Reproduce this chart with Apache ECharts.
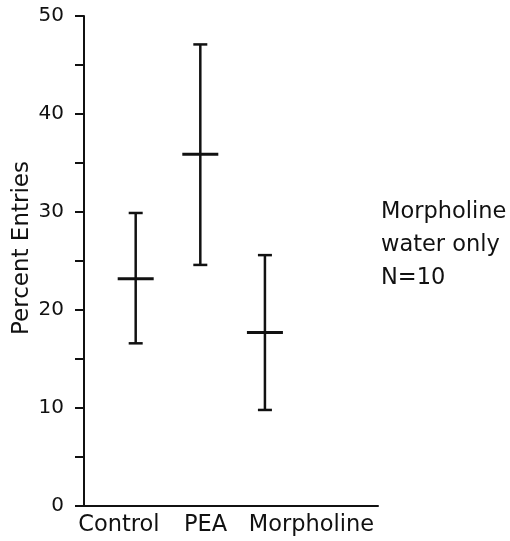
<!DOCTYPE html>
<html>
<head>
<meta charset="utf-8">
<script src="https://cdn.jsdelivr.net/npm/echarts@6/dist/echarts.min.js"></script>
<style>html,body{margin:0;padding:0;background:#fff;}#c{width:510px;height:541px;}</style>
</head>
<body>
<div id="c"></div>
<script>
const categories = ['Control', 'PEA', 'Morpholine'];
const means = [23.2, 35.9, 17.7];
const upper = [29.9, 47.1, 25.6];
const lower = [16.6, 24.6, 9.8];
const yTicks = [0, 10, 20, 30, 40, 50];
const labelPositions = [-0.26, 1.08, 2.72];
const noteLines = ['Morpholine', 'water only', 'N=10'];

const font = 'DejaVu Sans';
const ink = '#111';
const chart = echarts.init(document.getElementById('c'));
const data = categories.map((c, i) => [i, means[i], lower[i], upper[i]]);

chart.setOption({
  animation: false,
  grid: { left: 84, right: 132, top: 16, bottom: 35, containLabel: false, outerBoundsMode: 'none' },
  xAxis: {
    type: 'value', min: -0.8, max: 3.75,
    splitLine: { show: false },
    axisLine: { show: true, onZero: false, lineStyle: { color: ink, width: 2 } },
    axisTick: { show: false },
    axisLabel: {
      customValues: labelPositions,
      formatter: v => { const i = labelPositions.indexOf(v); return i >= 0 ? categories[i] : ''; },
      color: ink, fontFamily: font, fontSize: 22.5, margin: 8
    }
  },
  yAxis: {
    type: 'value', min: 0, max: 50, interval: 5,
    name: 'Percent Entries', nameLocation: 'middle', nameGap: 50, nameMoveOverlap: false,
    nameTextStyle: { color: ink, fontFamily: font, fontSize: 23, padding: [0, 0, 0, 26] },
    splitLine: { show: false },
    axisLine: { show: true, onZero: false, lineStyle: { color: ink, width: 2 } },
    axisTick: { show: true, length: 9, lineStyle: { color: ink, width: 2 } },
    axisLabel: {
      formatter: v => yTicks.includes(v) ? String(v) : '',
      color: ink, fontFamily: font, fontSize: 20, margin: 20
    }
  },
  series: [{
    type: 'custom',
    data: data,
    renderItem: (params, api) => {
      const x = api.value(0);
      const m = api.coord([x, api.value(1)]);
      const lo = api.coord([x, api.value(2)]);
      const hi = api.coord([x, api.value(3)]);
      const st = { stroke: ink, lineWidth: 2.5 };
      const cap = 7, half = 18;
      return { type: 'group', children: [
        { type: 'line', shape: { x1: m[0], y1: hi[1], x2: m[0], y2: lo[1] }, style: st },
        { type: 'line', shape: { x1: m[0] - cap, y1: hi[1], x2: m[0] + cap, y2: hi[1] }, style: st },
        { type: 'line', shape: { x1: m[0] - cap, y1: lo[1], x2: m[0] + cap, y2: lo[1] }, style: st },
        { type: 'line', shape: { x1: m[0] - half, y1: m[1], x2: m[0] + half, y2: m[1] }, style: { stroke: ink, lineWidth: 3 } }
      ]};
    }
  }],
  graphic: [{
    type: 'text', left: 381, top: 196,
    style: { text: noteLines.join('\n'), fill: ink, font: '22.5px "DejaVu Sans"', lineHeight: 33 }
  }]
});
</script>
</body>
</html>
